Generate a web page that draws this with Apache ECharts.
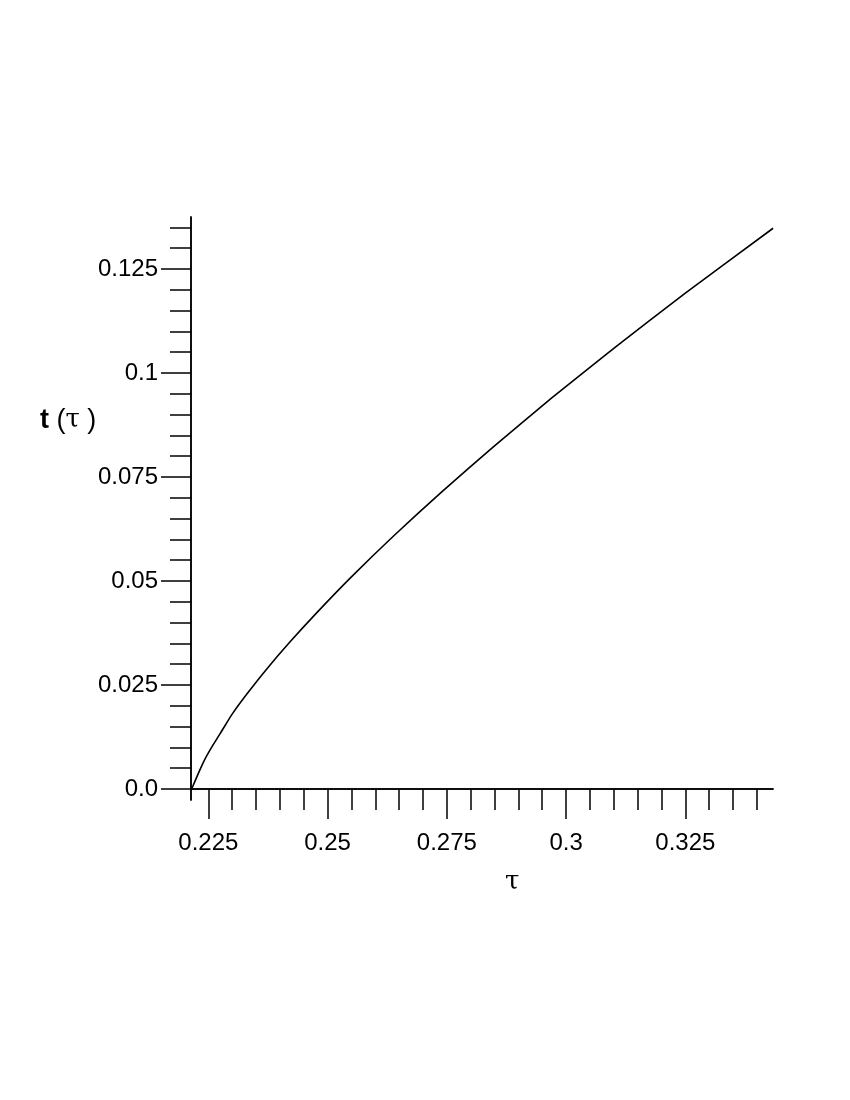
<!DOCTYPE html>
<html>
<head>
<meta charset="utf-8">
<script src="https://cdn.jsdelivr.net/npm/echarts@6/dist/echarts.min.js"></script>
<style>
  html, body { margin: 0; padding: 0; background: #fff; }
  #chart { width: 850px; height: 1100px; }
</style>
</head>
<body>
<div id="chart"></div>
<script>
// curve
const tauValues = [0.2215, 0.2230, 0.2243, 0.2260, 0.2280, 0.2300, 0.2330, 0.2370, 0.2420,
  0.2480, 0.2550, 0.2640, 0.2740, 0.2850, 0.2970, 0.3100, 0.3250, 0.3434];
const tValues = [0, 0.0040, 0.0072, 0.0106, 0.0143, 0.0180, 0.0227, 0.0285, 0.0352,
  0.0427, 0.0510, 0.0610, 0.0715, 0.0825, 0.0940, 0.1059, 0.1192, 0.1348];

// ticks
const xMajorTicks = [0.225, 0.25, 0.275, 0.3, 0.325];
const xMinorTicks = [0.225, 0.23, 0.235, 0.24, 0.245, 0.25, 0.255, 0.26, 0.265, 0.27, 0.275,
  0.28, 0.285, 0.29, 0.295, 0.3, 0.305, 0.31, 0.315, 0.32, 0.325, 0.33, 0.335, 0.34];
const yMajorTicks = [0, 0.025, 0.05, 0.075, 0.1, 0.125];
const yMinorTicks = [0, 0.005, 0.01, 0.015, 0.02, 0.025, 0.03, 0.035, 0.04, 0.045, 0.05,
  0.055, 0.06, 0.065, 0.07, 0.075, 0.08, 0.085, 0.09, 0.095, 0.1, 0.105, 0.11, 0.115,
  0.12, 0.125, 0.13, 0.135];

const xMin = 0.22137, xMax = 0.34338;
const yMin = -0.00264, yMax = 0.1375;

const font = "'Liberation Sans', Helvetica, Arial, sans-serif";
const serif = "'DejaVu Serif', 'Liberation Serif', serif";
const lineStyle = { color: "#000", width: 1.5 };

const chart = echarts.init(document.getElementById("chart"), null, { renderer: "canvas" });

const makeX = (ticks, len, labels) => ({
  type: "value",
  position: "bottom",
  min: xMin,
  max: xMax,
  axisLine: { show: true, onZero: true, lineStyle: lineStyle },
  axisTick: { show: true, length: len, customValues: ticks, lineStyle: lineStyle },
  axisLabel: labels
    ? {
        show: true,
        customValues: labels,
        margin: 31,
        color: "#000",
        fontFamily: font,
        fontSize: 24,
        formatter: (v) => String(v),
      }
    : { show: false },
  splitLine: { show: false },
});

const makeY = (ticks, len, labels) => ({
  type: "value",
  position: "left",
  min: yMin,
  max: yMax,
  axisLine: { show: true, onZero: false, lineStyle: lineStyle },
  axisTick: { show: true, length: len, customValues: ticks, lineStyle: lineStyle },
  axisLabel: labels
    ? {
        show: true,
        customValues: labels,
        margin: 33,
        color: "#000",
        fontFamily: font,
        fontSize: 24,
        formatter: (v) => (v === 0 ? "0.0" : String(v)),
      }
    : { show: false },
  splitLine: { show: false },
});

const option = {
  animation: false,
  backgroundColor: "#fff",
  grid: { left: 191, right: 77, top: 217, bottom: 300 },
  xAxis: [makeX(xMajorTicks, 30, xMajorTicks), makeX(xMinorTicks, 21, null)],
  yAxis: [makeY(yMajorTicks, 30, yMajorTicks), makeY(yMinorTicks, 21, null)],
  graphic: [
    {
      type: "text",
      left: 40,
      top: 407,
      style: {
        text: "{b|t} {n|(}{s|τ}{n| )}",
        fontFamily: font,
        fontSize: 27,
        fill: "#000",
        rich: {
          b: { fontFamily: font, fontSize: 27, fontWeight: "bold", fill: "#000" },
          n: { fontFamily: font, fontSize: 27, fill: "#000" },
          s: { fontFamily: serif, fontSize: 26, fill: "#000" },
        },
      },
    },
    {
      type: "text",
      left: 505,
      top: 869,
      style: {
        text: "τ",
        fontFamily: serif,
        fontSize: 26,
        fill: "#000",
      },
    },
  ],
  series: [
    {
      type: "line",
      xAxisIndex: 0,
      yAxisIndex: 0,
      showSymbol: false,
      smooth: 0.2,
      lineStyle: { color: "#000", width: 1.6 },
      data: tauValues.map((x, i) => [x, tValues[i]]),
    },
  ],
};

chart.setOption(option);
</script>
</body>
</html>
